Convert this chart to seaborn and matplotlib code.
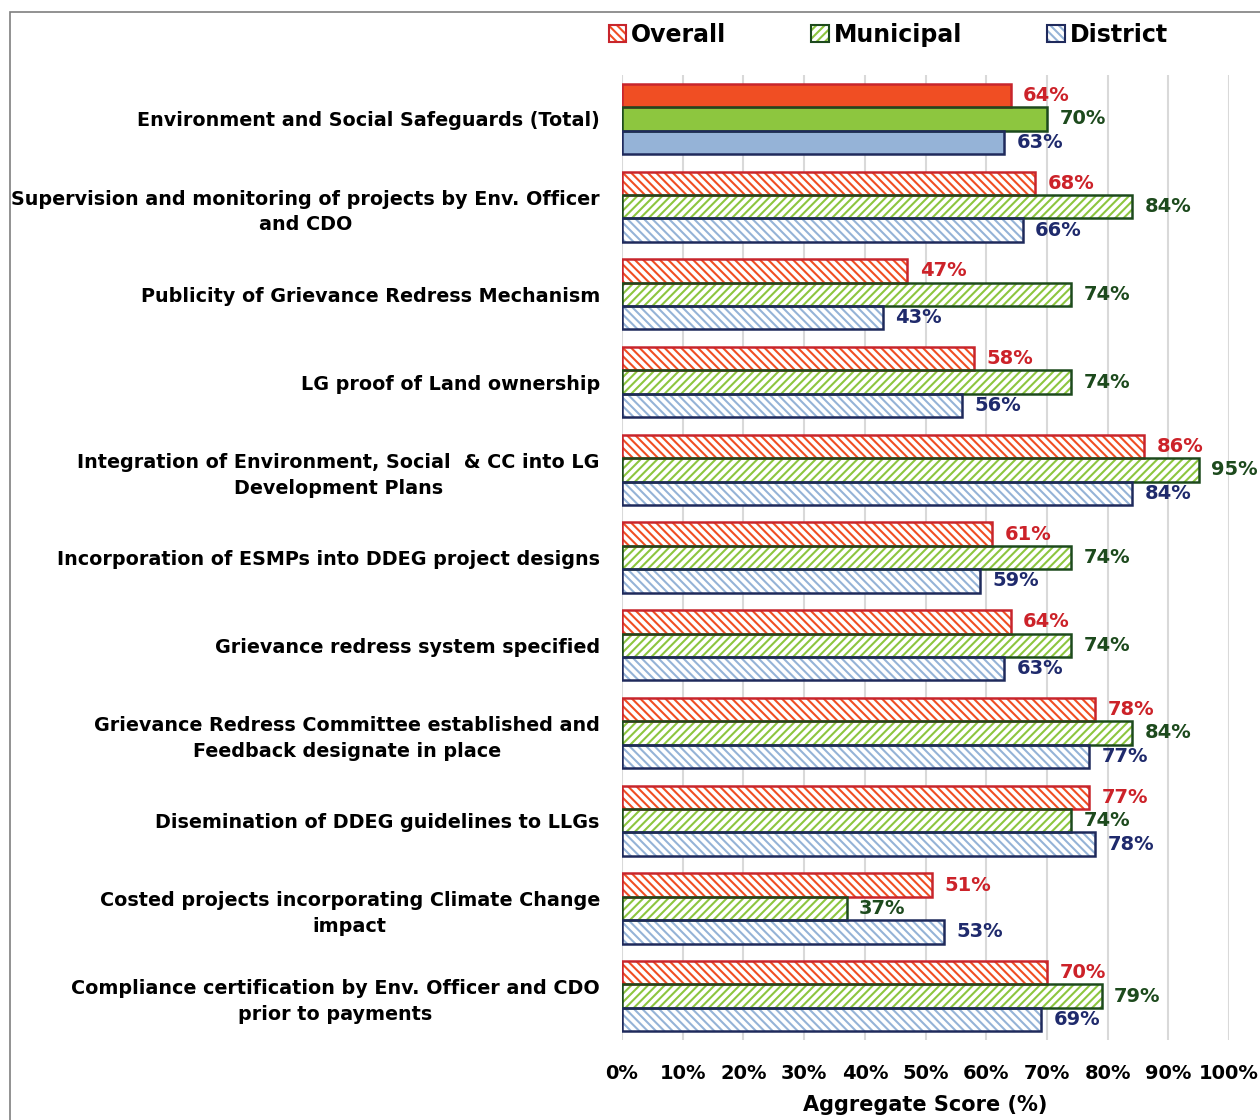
import pandas as pd
import numpy as np
import matplotlib
matplotlib.use("Agg")
import matplotlib.pyplot as plt
import seaborn as sns
from matplotlib.patches import Patch, Rectangle

# Data
categories = [
    "Environment and Social Safeguards (Total)",
    "Supervision and monitoring of projects by Env. Officer\nand CDO",
    "Publicity of Grievance Redress Mechanism",
    "LG proof of Land ownership",
    "Integration of Environment, Social  & CC into LG\nDevelopment Plans",
    "Incorporation of ESMPs into DDEG project designs",
    "Grievance redress system specified",
    "Grievance Redress Committee established and\nFeedback designate in place",
    "Disemination of DDEG guidelines to LLGs",
    "Costed projects incorporating Climate Change\nimpact",
    "Compliance certification by Env. Officer and CDO\nprior to payments",
]
series = ["Overall", "Municipal", "District"]
overall = [64, 68, 47, 58, 86, 61, 64, 78, 77, 51, 70]
municipal = [70, 84, 74, 74, 95, 74, 74, 84, 74, 37, 79]
district = [63, 66, 43, 56, 84, 59, 63, 77, 78, 53, 69]
x_ticks = [0, 10, 20, 30, 40, 50, 60, 70, 80, 90, 100]

fill_colors = ["#f04e23", "#8dc63f", "#95b3d7"]
edge_colors = ["#c8252c", "#1d4a1d", "#1f2a5c"]
text_colors = ["#cc2229", "#1d4a1d", "#1f2a6c"]
hatches = ["\\\\\\\\", "////", "\\\\\\\\"]

df = pd.DataFrame({
    "category": categories * 3,
    "score": overall + municipal + district,
    "series": [s for s in series for _ in categories],
})

sns.set_style("white")
plt.rcParams["font.family"] = ["DejaVu Sans"]
plt.rcParams["hatch.linewidth"] = 1.5
plt.rcParams["text.color"] = "black"
plt.rcParams["xtick.color"] = "black"
plt.rcParams["ytick.color"] = "black"
plt.rcParams["axes.labelcolor"] = "black"

fig = plt.figure(figsize=(12.6, 11.2), dpi=100)
ax = fig.add_axes([0.4937, 0.0714, 0.4817, 0.8616])

sns.barplot(data=df, y="category", x="score", hue="series", orient="h",
            palette=fill_colors, width=0.8, ax=ax, legend=False)

all_values = [overall, municipal, district]
for i, cont in enumerate(ax.containers):
    for j, bar in enumerate(cont):
        bar.set_linewidth(0)
        if j == 0:
            bar.set_facecolor(fill_colors[i])
        else:
            bar.set_facecolor("white")
            bar.set_edgecolor(fill_colors[i])
            bar.set_hatch(hatches[i])
        # dark outline drawn on top
        ax.add_patch(Rectangle(bar.get_xy(), bar.get_width(), bar.get_height(),
                               fill=False, edgecolor=edge_colors[i], linewidth=1.8,
                               zorder=bar.get_zorder() + 0.1))
    ax.bar_label(cont, labels=[f"{v}%" for v in all_values[i]], padding=9,
                 color=text_colors[i], fontsize=14, fontweight="bold")

ax.set_xlim(0, 100)
ax.set_ylim(len(categories) - 0.5, -0.5)
ax.set_xticks(x_ticks)
ax.set_xticklabels([f"{t}%" for t in x_ticks], fontsize=14, fontweight="bold")
ax.set_xlabel("Aggregate Score (%)", fontsize=15, fontweight="bold", labelpad=9)
ax.set_ylabel("")
ax.tick_params(axis="both", length=0)
ax.tick_params(axis="y", pad=16)
ax.tick_params(axis="x", pad=17)
for lbl in ax.get_yticklabels():
    lbl.set_fontsize(13.8)
    lbl.set_fontweight("bold")
    lbl.set_multialignment("center")
    lbl.set_linespacing(1.45)

ax.grid(axis="x", color="#d9d9d9", linewidth=1.5)
ax.grid(axis="y", visible=False)
ax.set_axisbelow(True)
for sp in ax.spines.values():
    sp.set_visible(False)

# legend with hatched swatches and dark borders
handles = []
for i in range(3):
    handles.append((Patch(facecolor="white", edgecolor=fill_colors[i], hatch=hatches[i], linewidth=0),
                    Patch(fill=False, edgecolor=edge_colors[i], linewidth=1.5)))
fig.legend(handles, series, loc="center", bbox_to_anchor=(0.705, 1 - 35 / 1120), ncol=3,
           frameon=False, handlelength=0.75, handleheight=0.75, handletextpad=0.2,
           columnspacing=3.6, prop={"size": 17, "weight": "bold"})

# outer frame
fig.patches.append(Rectangle((10 / 1260, -0.05), 1.2, 1 - 12 / 1120 + 0.05, transform=fig.transFigure,
                             fill=False, edgecolor="#7f7f7f", linewidth=1.2))

fig.savefig("out.png", dpi=100)
